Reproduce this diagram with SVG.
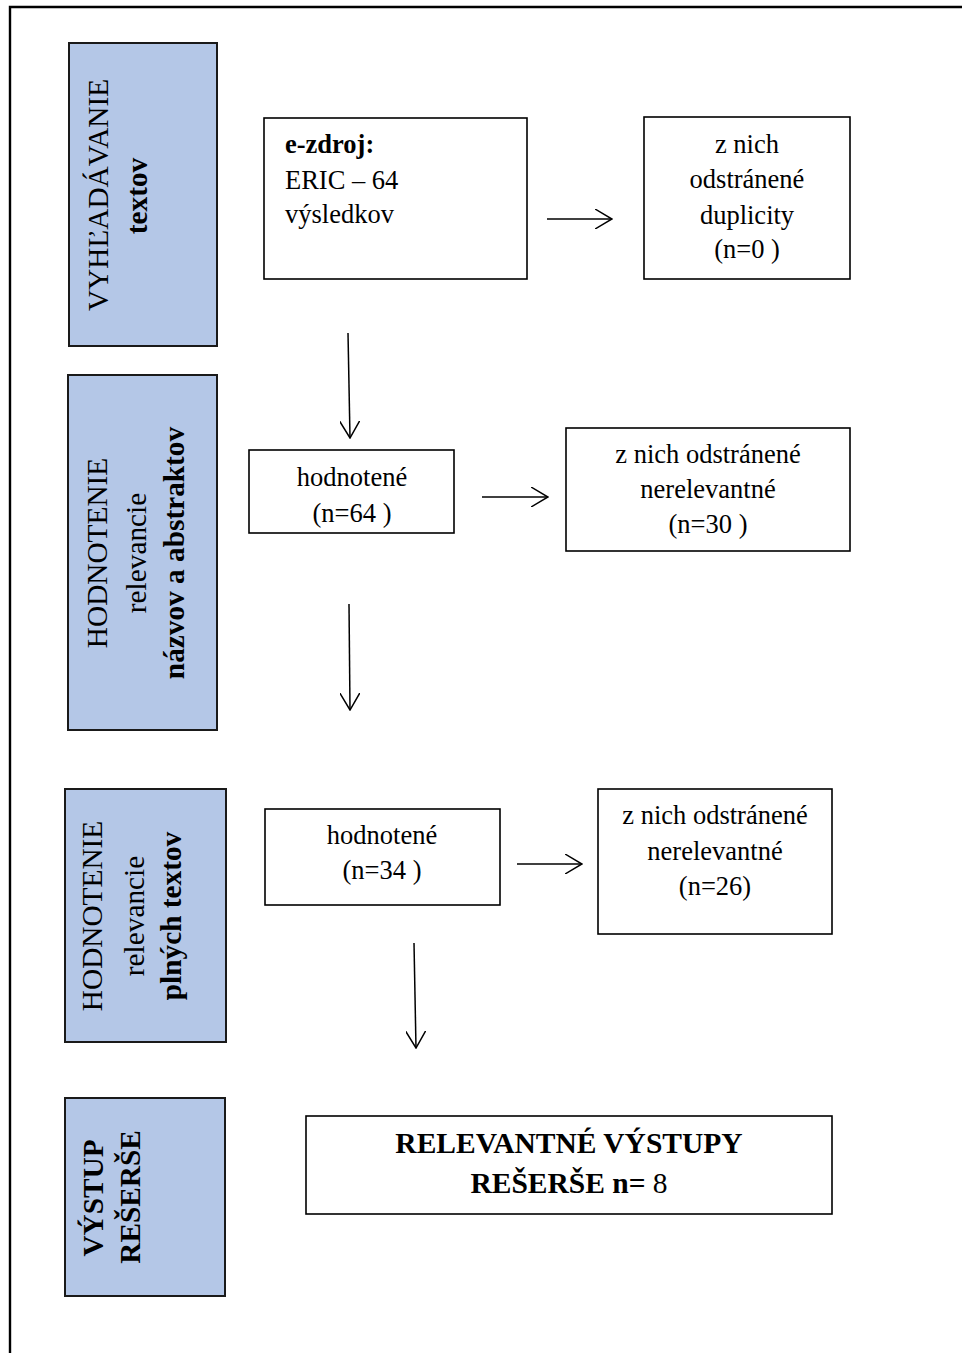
<svg xmlns="http://www.w3.org/2000/svg" width="962" height="1353" viewBox="0 0 962 1353">
<defs>
<marker id="arr" viewBox="0 0 18 20" refX="17" refY="10" markerWidth="18" markerHeight="20" markerUnits="userSpaceOnUse" orient="auto">
<path d="M0,0 L17,10 L0,20" fill="none" stroke="#000" stroke-width="1.5"/>
</marker>
</defs>
<style>
.side{fill:#b4c7e7;stroke:#1a1a1a;stroke-width:2}
.box{fill:#fff;stroke:#000;stroke-width:1.6}
.t{font-family:"Liberation Serif","Times New Roman",serif;fill:#000}
.st{font-size:29.3px}
.bt{font-size:26.5px}
.ft{font-size:29.5px}
.b{font-weight:bold}
.c{text-anchor:middle}
.conn line{stroke:#000;stroke-width:1.5;marker-end:url(#arr)}
</style>
<rect width="962" height="1353" fill="#fff"/>
<g id="frame" fill="none" stroke="#000" stroke-width="2.4">
<path d="M10,1353 L10,7 L962,7"/>
</g>

<g id="side1">
<rect class="side" x="69" y="43" width="148" height="303"/>
<text class="t st c" transform="translate(108,195) rotate(-90)">VYHĽADÁVANIE</text>
<text class="t st c b" transform="translate(147,196) rotate(-90)">textov</text>
</g>
<g id="side2">
<rect class="side" x="68" y="375" width="149" height="355"/>
<text class="t st c" transform="translate(107,553) rotate(-90)">HODNOTENIE</text>
<text class="t st c" transform="translate(146,553) rotate(-90)">relevancie</text>
<text class="t st c b" transform="translate(184,553) rotate(-90)">názvov a abstraktov</text>
</g>
<g id="side3">
<rect class="side" x="65" y="789" width="161" height="253"/>
<text class="t st c" transform="translate(102,916) rotate(-90)">HODNOTENIE</text>
<text class="t st c" transform="translate(144,916) rotate(-90)">relevancie</text>
<text class="t st c b" transform="translate(181,916) rotate(-90)">plných textov</text>
</g>
<g id="side4">
<rect class="side" x="65" y="1098" width="160" height="198"/>
<text class="t st c b" transform="translate(103,1198) rotate(-90)">VÝSTUP</text>
<text class="t st c b" transform="translate(140,1197) rotate(-90)">REŠERŠE</text>
</g>

<g id="source">
<rect class="box" x="264" y="118" width="263" height="161"/>
<text class="t bt b" x="285" y="153">e-zdroj:</text>
<text class="t bt" x="285" y="189">ERIC – 64</text>
<text class="t bt" x="285" y="223">výsledkov</text>
</g>
<g id="duplicates">
<rect class="box" x="644" y="117" width="206" height="162"/>
<text class="t bt c" x="747" y="153">z nich</text>
<text class="t bt c" x="747" y="188">odstránené</text>
<text class="t bt c" x="747" y="224">duplicity</text>
<text class="t bt c" x="747" y="258">(n=0 )</text>
</g>
<g id="screened1">
<rect class="box" x="249" y="450" width="205" height="83"/>
<text class="t bt c" x="352" y="486">hodnotené</text>
<text class="t bt c" x="352" y="522">(n=64 )</text>
</g>
<g id="excluded1">
<rect class="box" x="566" y="428" width="284" height="123"/>
<text class="t bt c" x="708" y="463">z nich odstránené</text>
<text class="t bt c" x="708" y="498">nerelevantné</text>
<text class="t bt c" x="708" y="533">(n=30 )</text>
</g>
<g id="screened2">
<rect class="box" x="265" y="809" width="235" height="96"/>
<text class="t bt c" x="382" y="844">hodnotené</text>
<text class="t bt c" x="382" y="879">(n=34 )</text>
</g>
<g id="excluded2">
<rect class="box" x="598" y="789" width="234" height="145"/>
<text class="t bt c" x="715" y="824">z nich odstránené</text>
<text class="t bt c" x="715" y="860">nerelevantné</text>
<text class="t bt c" x="715" y="895">(n=26)</text>
</g>
<g id="result">
<rect class="box" x="306" y="1116" width="526" height="98"/>
<text class="t ft c b" x="569" y="1153">RELEVANTNÉ VÝSTUPY</text>
<text class="t ft c" x="569" y="1193"><tspan class="b">REŠERŠE n=</tspan> 8</text>
</g>

<g id="connectors" class="conn">
<line x1="547" y1="219" x2="612" y2="219"/>
<line x1="348" y1="333" x2="350" y2="438"/>
<line x1="482" y1="497" x2="548" y2="497"/>
<line x1="349" y1="604" x2="350" y2="710"/>
<line x1="517" y1="864" x2="582" y2="864"/>
<line x1="414" y1="943" x2="416" y2="1048"/>
</g>
</svg>
